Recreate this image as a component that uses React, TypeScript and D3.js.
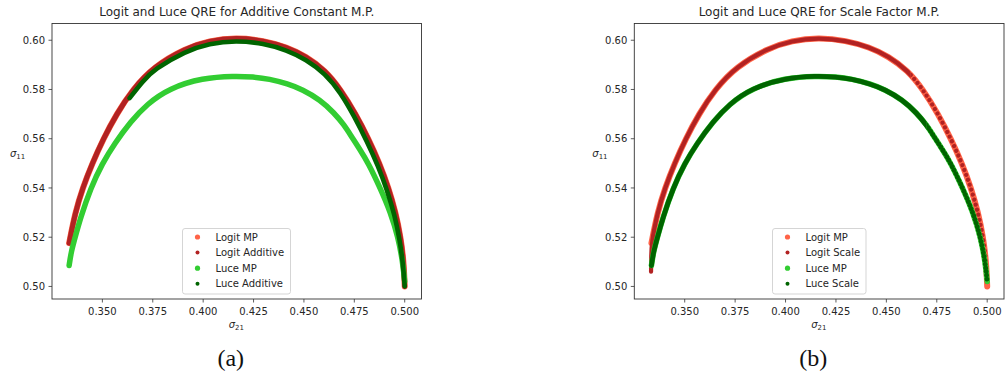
import React from "react";
import * as d3 from "d3";

type P = [number, number];

// Logit QRE (σ21, σ11)
const logitMP: P[] = [
  [0.3335, 0.5176], [0.3365, 0.53], [0.3402, 0.54], [0.345, 0.55], [0.3505, 0.56],
  [0.357, 0.57], [0.365, 0.58], [0.3755, 0.5893], [0.3914, 0.5968], [0.403, 0.5998],
  [0.4163, 0.6011], [0.43, 0.5999], [0.4415, 0.5972], [0.451, 0.5935], [0.4605, 0.5878],
  [0.4682, 0.58], [0.4757, 0.57], [0.482, 0.56], [0.4875, 0.55], [0.492, 0.54],
  [0.4955, 0.53], [0.498, 0.52], [0.4995, 0.51], [0.5, 0.5],
];
const logitAdditive: P[] = logitMP;
const logitScale: P[] = [[0.3333, 0.506], [0.3334, 0.512], ...logitMP];

const luceMP: P[] = [
  [0.3335, 0.5085], [0.3345, 0.514], [0.3365, 0.52], [0.339, 0.5275], [0.3442, 0.54],
  [0.35, 0.55], [0.356, 0.558], [0.3641, 0.567], [0.372, 0.574], [0.3832, 0.5805],
  [0.3997, 0.5847], [0.4155, 0.5855], [0.425, 0.5851], [0.4327, 0.5843], [0.442, 0.5823],
  [0.4492, 0.58], [0.458, 0.5758], [0.465, 0.5705], [0.47, 0.5655], [0.4735, 0.561],
  [0.4775, 0.556], [0.482, 0.55], [0.4878, 0.54], [0.493, 0.53], [0.4967, 0.52],
  [0.499, 0.51], [0.5, 0.502],
];
const luceScale: P[] = luceMP;
const luceAdditive: P[] = [
  [0.3635, 0.5765], [0.37, 0.5833], [0.3755, 0.5881], [0.3914, 0.5956], [0.403, 0.5987],
  [0.4163, 0.5999], [0.43, 0.5987], [0.4415, 0.596], [0.451, 0.5922], [0.4605, 0.5865],
  [0.4682, 0.5787], [0.475, 0.569], [0.4812, 0.559], [0.4868, 0.549], [0.4913, 0.539],
  [0.495, 0.529], [0.4975, 0.519], [0.4992, 0.509], [0.5, 0.5],
];

const xTicks = [0.35, 0.375, 0.4, 0.425, 0.45, 0.475, 0.5];
const yTicks = [0.5, 0.52, 0.54, 0.56, 0.58, 0.6];

const colors = {
  logitMP: "#ff6347",
  logitOther: "#b22222",
  luceMP: "#32cd32",
  luceOther: "#006400",
};

type Series = {
  name: string; data: P[]; color: string; width: number; r: number; beadFrom?: number; beadGap?: number;
};

const FONT = "DejaVu Sans, sans-serif";
const TEXT = "#262626";

function Panel({
  id, left, right, title, series, legendX, legendW, letter,
}: {
  id: string; left: number; right: number; title: string; series: Series[]; legendX: number; legendW: number; letter: string;
}) {
  const top = 23.5;
  const bottom = 299;
  const x = d3.scaleLinear().domain([0.325, 0.50833]).range([left, right]);
  const y = d3.scaleLinear().domain([0.4949, 0.6068]).range([bottom, top]);
  const line = d3
    .line<P>()
    .x((d) => x(d[0]))
    .y((d) => y(d[1]))
    .curve(d3.curveBasis);
  const cx = (left + right) / 2;
  const legendTop = 228.5;
  const rowH = 15.6;
  return (
    <g>
      <text x={cx} y={16} textAnchor="middle" fontFamily={FONT} fontSize={12} fill={TEXT}>
        {title}
      </text>
      {series.map((s, i) => {
        const d = line(s.data) || "";
        if (s.beadFrom === undefined) {
          return (
            <path key={s.name} d={d} fill="none" stroke={s.color} strokeWidth={s.width}
              strokeLinecap="round" strokeLinejoin="round" />
          );
        }
        const cut = x(s.beadFrom);
        return (
          <g key={s.name}>
            <clipPath id={`${id}-a${i}`}>
              <rect x={0} y={0} width={cut} height={400} />
            </clipPath>
            <clipPath id={`${id}-b${i}`}>
              <rect x={cut} y={0} width={1007} height={400} />
            </clipPath>
            <path d={d} fill="none" stroke={s.color} strokeWidth={s.width}
              strokeLinecap="round" strokeLinejoin="round" clipPath={`url(#${id}-a${i})`} />
            <path d={d} fill="none" stroke={s.color} strokeWidth={s.width}
              strokeLinecap="round" strokeDasharray={`0.01 ${s.beadGap ?? 5.2}`} clipPath={`url(#${id}-b${i})`} />
          </g>
        );
      })}
      <rect x={left} y={top} width={right - left} height={bottom - top} fill="none" stroke="#333" strokeWidth={0.9} />
      {xTicks.map((t) => (
        <g key={"x" + t}>
          <line x1={x(t)} x2={x(t)} y1={bottom} y2={bottom + 3.5} stroke="#333" strokeWidth={0.8} />
          <text x={x(t)} y={315} textAnchor="middle" fontFamily={FONT} fontSize={10} fill={TEXT}>
            {d3.format(".3f")(t)}
          </text>
        </g>
      ))}
      {yTicks.map((t) => (
        <g key={"y" + t}>
          <line x1={left - 3.5} x2={left} y1={y(t)} y2={y(t)} stroke="#333" strokeWidth={0.8} />
          <text x={left - 7} y={y(t) + 3.6} textAnchor="end" fontFamily={FONT} fontSize={10} fill={TEXT}>
            {d3.format(".2f")(t)}
          </text>
        </g>
      ))}
      <text x={left - 42} y={157} fontFamily={FONT} fontSize={10} fill={TEXT}>
        <tspan fontStyle="italic">σ</tspan>
        <tspan fontSize={7} dy={2}>11</tspan>
      </text>
      <text x={cx - 8} y={328} fontFamily={FONT} fontSize={10} fill={TEXT}>
        <tspan fontStyle="italic">σ</tspan>
        <tspan fontSize={7} dy={2}>21</tspan>
      </text>
      <rect x={legendX} y={legendTop} width={legendW} height={65.5} rx={2.5} fill="#fff" fillOpacity={0.8} stroke="#d0d0d0" strokeWidth={0.9} />
      {series.map((s, i) => (
        <g key={"l" + s.name}>
          <circle cx={legendX + 15} cy={legendTop + 8.5 + i * rowH} r={s.r} fill={s.color} />
          <text x={legendX + 33} y={legendTop + 12 + i * rowH} fontFamily={FONT} fontSize={10} fill={TEXT}>
            {s.name}
          </text>
        </g>
      ))}
      <text x={cx - 6} y={366} textAnchor="middle" fontFamily="Liberation Serif, serif" fontSize={24} fill="#111">
        {letter}
      </text>
    </g>
  );
}

export default function App() {
  const seriesA: Series[] = [
    { name: "Logit MP", data: logitMP, color: colors.logitMP, width: 6, r: 2.6 },
    { name: "Logit Additive", data: logitAdditive, color: colors.logitOther, width: 5, r: 2 },
    { name: "Luce MP", data: luceMP, color: colors.luceMP, width: 5.5, r: 2.6 },
    { name: "Luce Additive", data: luceAdditive, color: colors.luceOther, width: 4.6, r: 2 },
  ];
  const seriesB: Series[] = [
    { name: "Logit MP", data: logitMP, color: colors.logitMP, width: 6, r: 2.6 },
    { name: "Logit Scale", data: logitScale, color: colors.logitOther, width: 4.2, r: 2, beadFrom: 0.462, beadGap: 5.2 },
    { name: "Luce MP", data: luceMP, color: colors.luceMP, width: 5.5, r: 2.6 },
    { name: "Luce Scale", data: luceScale, color: colors.luceOther, width: 4.8, r: 2, beadFrom: 0.47, beadGap: 3.8 },
  ];
  return (
    <svg
      width={1007}
      height={382}
      style={{ position: "fixed", left: 0, top: 0, background: "#fff" }}
    >
      <rect width={1007} height={382} fill="#fff" />
      <Panel id="pa" left={52} right={421.5} title="Logit and Luce QRE for Additive Constant M.P." series={seriesA} legendX={182.5} legendW={108} letter="(a)" />
      <Panel id="pb" left={634.3} right={1004} title="Logit and Luce QRE for Scale Factor M.P." series={seriesB} legendX={772.5} legendW={93.5} letter="(b)" />
    </svg>
  );
}
